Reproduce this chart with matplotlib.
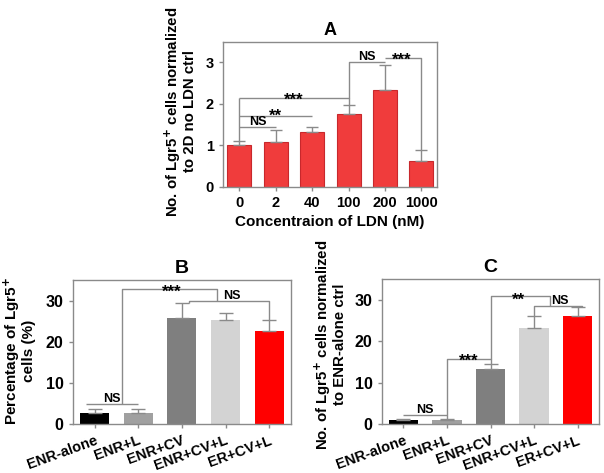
import numpy as np
import matplotlib
matplotlib.use("Agg")
import matplotlib.pyplot as plt

plt.rcParams["font.family"] = ["Liberation Sans", "DejaVu Sans"]
plt.rcParams["font.weight"] = "bold"

# Panel A data
ldn_labels = ["0", "2", "40", "100", "200", "1000"]
ldn_mean = [1.0, 1.07, 1.32, 1.75, 2.33, 0.63]
ldn_err = [0.10, 0.31, 0.13, 0.22, 0.61, 0.25]

# Panel B / C data
groups = ["ENR-alone", "ENR+L", "ENR+CV", "ENR+CV+L", "ER+CV+L"]
pct_mean = [2.65, 2.7, 25.7, 25.3, 22.6]
pct_err = [1.05, 0.9, 3.7, 1.7, 2.7]
norm_mean = [1.04, 0.95, 13.4, 23.3, 26.1]
norm_err = [0.2, 0.3, 1.2, 2.9, 2.1]
group_colors = ["#000000", "#a0a0a0", "#7f7f7f", "#d3d3d3", "#ff0000"]

GRAY = "#8a8a8a"


def style_axes(ax, size):
    for s in ax.spines.values():
        s.set_color(GRAY)
        s.set_linewidth(1.0)
    ax.tick_params(axis="both", colors=GRAY, labelcolor="black", width=1.0,
                   length=3, labelsize=size)
    for lab in ax.get_yticklabels() + ax.get_xticklabels():
        lab.set_fontweight("bold")


def line(ax, xs, ys):
    ax.plot(xs, ys, color=GRAY, lw=1.0, solid_capstyle="butt")


def ns(ax, x, y):
    ax.annotate("NS", (x, y), xytext=(0, 1.5), textcoords="offset points",
                ha="center", va="baseline", fontsize=9, fontweight="bold")


def stars(ax, x, y, s):
    # y is the vertical centre of the asterisks
    ax.annotate(s, (x, y), xytext=(0, -7.2), textcoords="offset points",
                ha="center", va="baseline", fontsize=12, fontweight="bold")


fig = plt.figure(figsize=(6.04, 4.73), dpi=100)

# ---------------- A ----------------
axA = fig.add_axes([0.3687, 0.6053, 0.724 - 0.3687, 0.9118 - 0.6053])
x = np.arange(len(ldn_labels))
axA.bar(x, ldn_mean, width=0.66, color="#f03c3c", edgecolor="#c8282c", lw=0.8,
        yerr=[np.zeros(len(x)), ldn_err], error_kw=dict(ecolor=GRAY, capsize=4,
                                                       elinewidth=1, capthick=1))
axA.set_xlim(-0.46, 5.44)
axA.set_ylim(0, 3.5)
axA.set_yticks([0, 1, 2, 3])
axA.set_xticks(x, ldn_labels)
axA.set_title("A", fontsize=13, fontweight="bold", pad=5)
axA.set_xlabel("Concentraion of LDN (nM)", fontsize=11, fontweight="bold", labelpad=4)
axA.set_ylabel("No. of Lgr5$^\\mathbf{+}$ cells normalized\nto 2D no LDN ctrl",
               fontsize=10.8, fontweight="bold", linespacing=1.0)
axA.yaxis.set_label_coords(-0.12, 0.52)
topA = [m + e for m, e in zip(ldn_mean, ldn_err)]
line(axA, [0, 0], [topA[0], 2.15])
line(axA, [0, 1], [1.44, 1.44]); ns(axA, 0.5, 1.44)
line(axA, [0, 2], [1.71, 1.71]); stars(axA, 0.98, 1.83, "**")
line(axA, [0, 3, 3], [2.15, 2.15, topA[3]]); stars(axA, 1.48, 2.23, "***")
line(axA, [3, 3, 4], [2.15, 3.02, 3.02]); ns(axA, 3.5, 3.02)
line(axA, [4, 5, 5], [3.1, 3.1, topA[5]]); stars(axA, 4.45, 3.19, "***")
style_axes(axA, 10.5)

# ---------------- B ----------------
xg = np.arange(len(groups))
axB = fig.add_axes([0.1204, 0.103, 0.4818 - 0.1204, 0.408 - 0.103])
axB.bar(xg, pct_mean, width=0.67, color=group_colors, edgecolor="none",
        yerr=[np.zeros(len(xg)), pct_err], error_kw=dict(ecolor=GRAY, capsize=5,
                                                        elinewidth=1, capthick=1))
axB.set_xlim(-0.5, 4.5)
axB.set_ylim(0, 35)
axB.set_yticks([0, 10, 20, 30])
axB.set_xticks(xg, groups, rotation=20, ha="right", rotation_mode="anchor")
axB.set_title("B", fontsize=14, fontweight="bold", pad=5)
axB.set_ylabel("Percentage of Lgr5$^\\mathbf{+}$\ncells (%)", fontsize=11,
               fontweight="bold", linespacing=1.0)
axB.yaxis.set_label_coords(-0.168, 0.51)
topB = [m + e for m, e in zip(pct_mean, pct_err)]
line(axB, [-0.2, 1.0], [4.83, 4.83]); ns(axB, 0.4, 4.83)
line(axB, [0.64, 0.64, 2.8, 2.8], [4.83, 32.8, 32.8, 30.0]); stars(axB, 1.76, 33.4, "***")
line(axB, [2.17, 2.17, 4, 4], [topB[2], 30.0, 30.0, topB[4]]); ns(axB, 3.14, 30.0)
style_axes(axB, 11.5)
for lab in axB.get_xticklabels():
    lab.set_fontsize(10.5)

# ---------------- C ----------------
axC = fig.add_axes([0.632, 0.103, 0.9922 - 0.632, 0.410 - 0.103])
axC.bar(xg, norm_mean, width=0.67, color=group_colors, edgecolor="none",
        yerr=[np.zeros(len(xg)), norm_err], error_kw=dict(ecolor=GRAY, capsize=5,
                                                         elinewidth=1, capthick=1))
axC.set_xlim(-0.5, 4.5)
axC.set_ylim(0, 35)
axC.set_yticks([0, 10, 20, 30])
axC.set_xticks(xg, groups, rotation=20, ha="right", rotation_mode="anchor")
axC.set_title("C", fontsize=14, fontweight="bold", pad=5)
axC.set_ylabel("No. of Lgr5$^\\mathbf{+}$ cells normalized\nto ENR-alone ctrl",
               fontsize=10.8, fontweight="bold", linespacing=1.0)
axC.yaxis.set_label_coords(-0.16, 0.55)
topC = [m + e for m, e in zip(norm_mean, norm_err)]
line(axC, [0, 1], [2.24, 2.24]); ns(axC, 0.5, 2.24)
line(axC, [1, 1, 2, 2], [topC[1], 15.8, 15.8, topC[2]]); stars(axC, 1.5, 16.4, "***")
line(axC, [2, 2, 3.37, 3.37], [15.8, 30.8, 30.8, 28.6]); stars(axC, 2.64, 31.1, "**")
line(axC, [3, 3, 4.1, 4.1], [topC[3], 28.6, 28.6, topC[4]]); ns(axC, 3.6, 28.6)
style_axes(axC, 11.5)
for lab in axC.get_xticklabels():
    lab.set_fontsize(10.5)

fig.savefig("out.png", dpi=100)
